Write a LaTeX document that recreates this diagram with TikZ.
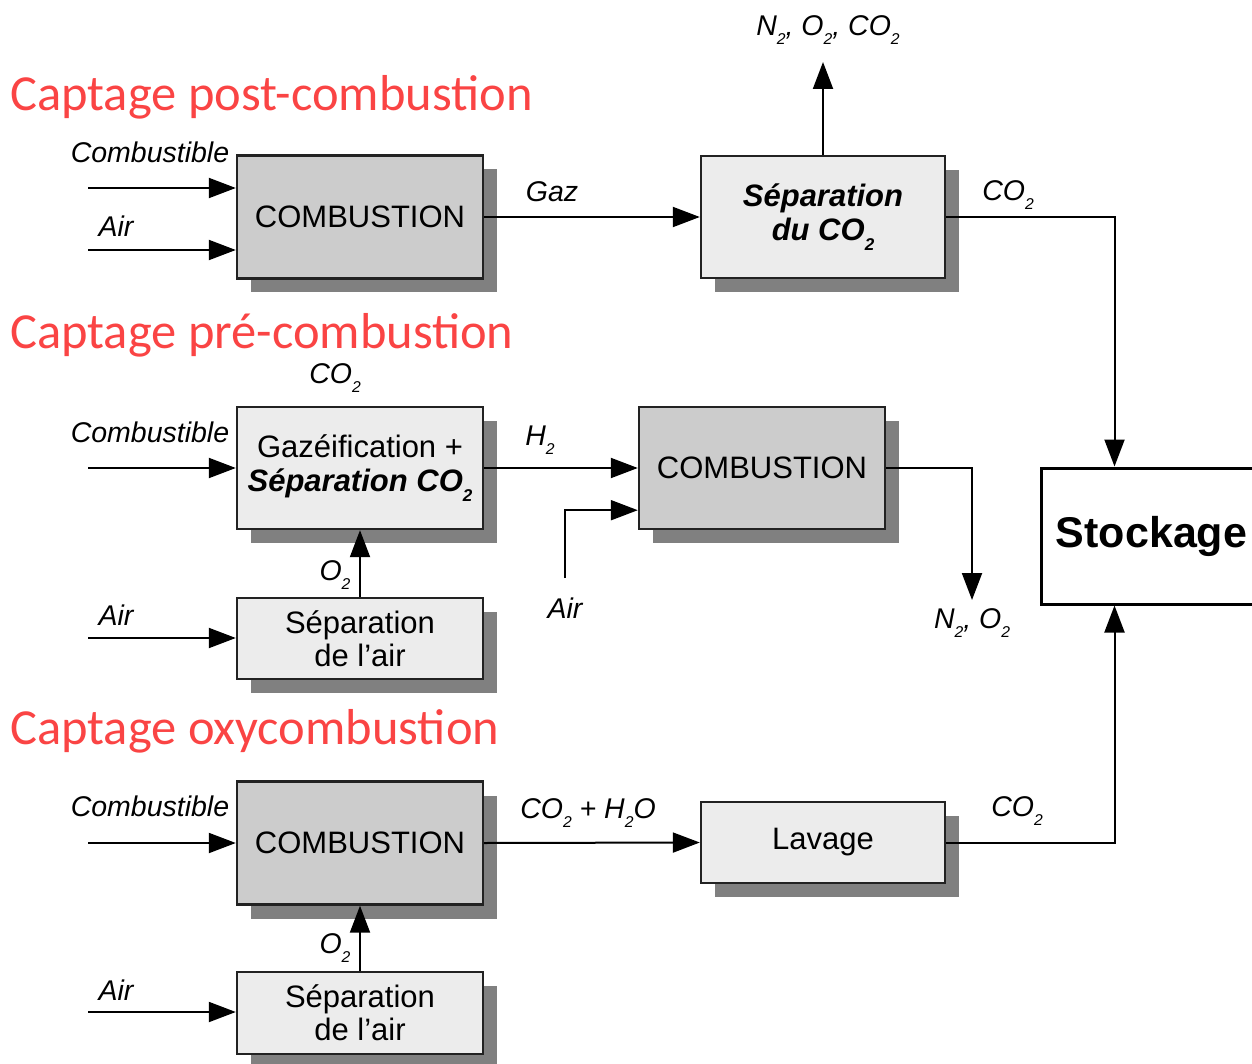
\documentclass[tikz,border=0pt]{standalone}
\usepackage{fontspec}
\usepackage{graphicx}
\setmainfont{Liberation Sans}
\newfontfamily\titlefont{Carlito}
\usetikzlibrary{arrows.meta,shadows,calc}
\definecolor{titlered}{RGB}{250,68,68}
\definecolor{boxgray}{RGB}{204,204,204}
\definecolor{boxlight}{RGB}{236,236,236}
\definecolor{shadowgray}{RGB}{128,128,128}
\definecolor{edge}{RGB}{34,34,34}
\newcommand{\ix}[1]{\raisebox{-0.32em}{\scalebox{0.55}{#1}}}
\tikzset{
  blk/.style={draw=edge, line width=2.4pt, inner sep=0pt, align=center,
    font=\fontsize{31}{35}\selectfont,
    drop shadow={shadow xshift=14pt, shadow yshift=-14pt, fill=shadowgray, opacity=1}},
  darkblk/.style={blk, fill=boxgray},
  lightblk/.style={blk, fill=boxlight},
  lbl/.style={font=\fontsize{28.5}{30}\selectfont\itshape, inner sep=0pt},
  ttl/.style={font=\fontsize{50.5}{54}\selectfont\titlefont, text=titlered, anchor=west, inner sep=0pt},
  arr/.style={draw=black, line width=2pt, -{Triangle[length=27pt,width=20pt]}},
  ln/.style={draw=black, line width=2pt}
}
\begin{document}
\begin{tikzpicture}[x=1pt,y=-1pt]
\useasboundingbox (0,0) rectangle (1252,1064);
% titles
\node[ttl] (t1) at (10,97) {Captage post-combustion};
\node[ttl] (t2) at (10,335) {Captage pré-combustion};
\node[ttl] (t3) at (10,731) {Captage oxycombustion};
% boxes
\node[darkblk, minimum width=246pt, minimum height=123pt] (comb1) at (360,217) {COMBUSTION};
\node[lightblk, minimum width=244pt, minimum height=122pt] (sep) at (823,217) {\bfseries\itshape Séparation\\[-1pt]\bfseries\itshape du CO\ix{2}};
\node[lightblk, minimum width=246pt, minimum height=122pt] (gaz) at (360,468) {Gazéification +\\[-1pt]\bfseries\itshape Séparation CO\ix{2}};
\node[lightblk, minimum width=246pt, minimum height=81pt] (air1) at (360,638.5) {Séparation\\[-2pt]de l’air};
\node[darkblk, minimum width=246pt, minimum height=122pt] (comb2) at (762,468) {COMBUSTION};
\node[draw=black, line width=3pt, fill=white, minimum width=221pt, minimum height=136pt, inner sep=0pt,
      font=\fontsize{43}{46}\selectfont\bfseries] (stock) at (1151.5,536) {Stockage};
\node[darkblk, minimum width=246pt, minimum height=123pt] (comb3) at (360,843) {COMBUSTION};
\node[lightblk, minimum width=244pt, minimum height=81pt] (lav) at (823,842.5) {Lavage};
\node[lightblk, minimum width=246pt, minimum height=82pt] (air2) at (360,1013) {Séparation\\[-2pt]de l’air};
% free ends
\coordinate (f1) at (88,188);
\coordinate (a1) at (88,250);
\coordinate (top) at (823,62);
\coordinate (f2) at (88,468);
\coordinate (a2) at (88,638);
\coordinate (a3) at (565,578);
\coordinate (n2) at (972,600);
\coordinate (f3) at (88,843);
\coordinate (a4) at (88,1012);
% connectors
\draw[arr] (f1) -- (f1 -| comb1.west);
\draw[arr] (a1) -- (a1 -| comb1.west);
\draw[arr] (comb1.east) -- (sep.west);
\draw[arr] (sep.north) -- (top);
\draw[arr] (sep.east) -| ([xshift=75pt]stock.north west);
\draw[arr] (f2) -- (f2 -| gaz.west);
\draw[arr] (a2) -- (a2 -| air1.west);
\draw[arr] (air1.north) -- (gaz.south);
\draw[arr] (gaz.east) -- (comb2.west);
\draw[arr] (a3) |- ([yshift=20pt]comb2.south west);
\draw[arr] (comb2.east) -| (n2);
\draw[arr] (f3) -- (f3 -| comb3.west);
\draw[arr] (a4) -- (a4 -| air2.west);
\draw[arr] (air2.north) -- (comb3.south);
\draw[arr] (comb3.east) -- (lav.west);
\draw[arr] (lav.east) -| ([xshift=75pt]stock.south west);
% labels
\node[lbl] (l1) at (150,152) {Combustible};
\node[lbl] (l2) at (116,226) {Air};
\node[lbl] (l3) at (552,192) {Gaz};
\node[lbl] (l4) at (828,30) {N\ix{2}, O\ix{2}, CO\ix{2}};
\node[lbl] (l5) at (1008,195) {CO\ix{2}};
\node[lbl] (l6) at (335,378) {CO\ix{2}};
\node[lbl] (l7) at (150,432) {Combustible};
\node[lbl] (l8) at (540,440) {H\ix{2}};
\node[lbl] (l9) at (565,608) {Air};
\node[lbl] (l10) at (972,623) {N\ix{2}, O\ix{2}};
\node[lbl] (l11) at (335,575) {O\ix{2}};
\node[lbl] (l12) at (116,615) {Air};
\node[lbl] (l13) at (150,806) {Combustible};
\node[lbl] (l14) at (588,813) {CO\ix{2} + H\ix{2}O};
\node[lbl] (l15) at (1017,811) {CO\ix{2}};
\node[lbl] (l16) at (335,948) {O\ix{2}};
\node[lbl] (l17) at (116,990) {Air};
\end{tikzpicture}
\end{document}
